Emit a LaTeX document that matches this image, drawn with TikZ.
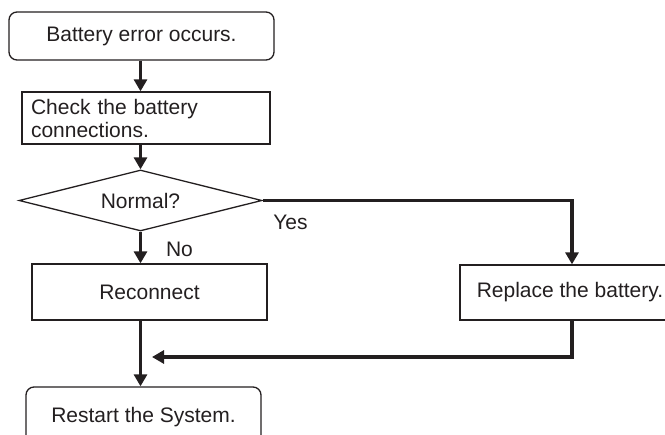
\documentclass[tikz,border=0pt]{standalone}
\usepackage{fontspec}
\setmainfont{Liberation Sans}
\usetikzlibrary{arrows.meta,shapes.geometric}
\definecolor{ink}{HTML}{231F20}
\begin{document}
\begin{tikzpicture}[x=1pt,y=-1pt,
  box/.style={draw=ink,line width=1.3pt,inner sep=0pt,font=\fontsize{21}{23}\selectfont,text=ink},
  rbox/.style={box,rounded corners=8pt},
  flow/.style={draw=ink,line width=3.2pt,line join=miter,-{Triangle[width=13pt,length=12pt]}},
  lbl/.style={font=\fontsize{21}{23}\selectfont,text=ink,inner sep=0pt}]
\clip (0,0) rectangle (665,435);
\node[rbox,minimum width=265pt,minimum height=48pt] (b1) at (141.5,36) {Battery error occurs.};
\node[box,minimum width=248pt,minimum height=52pt,text width=230pt,align=left] (b2) at (146,118) {Check the battery\\connections.};
\node[box,diamond,aspect=4,minimum width=243pt,minimum height=61pt] (d) at (140.5,200.5) {Normal?};
\node[box,minimum width=235pt,minimum height=56pt] (rc) at (149.5,292) {Reconnect};
\node[box,minimum width=220pt,minimum height=55pt] (rep) at (570,292.5) {Replace the battery.};
\node[rbox,minimum width=235pt,minimum height=60pt] (rs) at (143.5,417) {Restart the System.};
\coordinate (ret) at (152,357);
\node[lbl] (yes) at (290.5,222) {Yes};
\node[lbl] (no) at (179.5,249) {No};
\draw[flow] (b1.south -| d.north) -- (d.north |- b2.north);
\draw[flow] (d.north |- b2.south) -- (d.north);
\draw[flow] (d.east) -| ([xshift=2pt]rep.north);
\draw[flow] (d.south) -- (d.south |- rc.north);
\draw[flow] (d.south |- rc.south) -- (d.south |- rs.north);
\draw[flow] ([xshift=2pt]rep.south) |- (ret);
\end{tikzpicture}
\end{document}
